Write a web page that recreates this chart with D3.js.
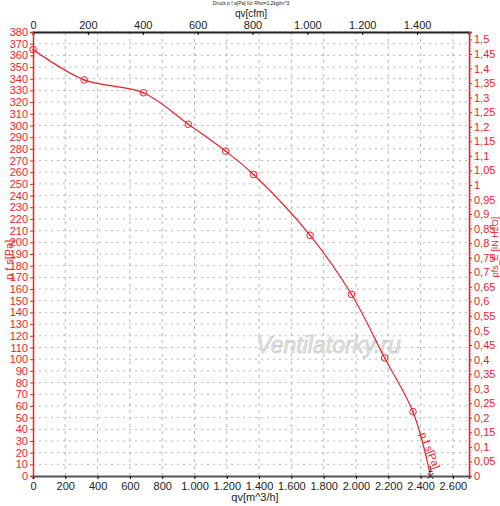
<!DOCTYPE html>
<html>
<head>
<meta charset="utf-8">
<script src="https://cdn.jsdelivr.net/npm/d3@7"></script>
<style>
  body { margin: 0; background: #fff; }
  text { font-family: "Liberation Sans", Arial, sans-serif; }
</style>
</head>
<body>
<div id="chart"></div>
<script>
// curve data
var qvPoints = [0, 317, 684, 962, 1193, 1366, 1716, 1972, 2178, 2353, 2462];
var pPoints  = [365, 339, 328, 301, 278, 258, 206, 155.5, 101, 55, 0];
// tick values
var qvTicks  = [0, 200, 400, 600, 800, 1000, 1200, 1400, 1600, 1800, 2000, 2200, 2400, 2600];
var cfmTicks = [0, 200, 400, 600, 800, 1000, 1200, 1400];
var paTicks  = d3.range(0, 381, 10);
var inTicks  = d3.range(0, 1.501, 0.05);

var red = "#e3262b";
var margin = {top: 32, right: 31, bottom: 30, left: 33},
    width = 500 - margin.left - margin.right,
    height = 506 - margin.top - margin.bottom;

var svg = d3.select("#chart")
  .append("svg")
    .attr("width", 500)
    .attr("height", 506)
  .append("g")
    .attr("transform", "translate(" + margin.left + "," + margin.top + ")");

var x = d3.scaleLinear().domain([0, 2700]).range([0, width]);
var xCfm = d3.scaleLinear().domain([0, 2700 / 1.699]).range([0, width]);
var y = d3.scaleLinear().domain([0, 380]).range([height, 0]);
var yIn = d3.scaleLinear().domain([0, 380 / 249.09]).range([height, 0]);

var dotFmt = function (v) { return d3.format(",")(v).replace(/,/g, "."); };
var commaFmt = function (v) { return (+v.toFixed(2)).toString().replace(".", ","); };

// grid
svg.append("g").selectAll("line")
  .data(paTicks.slice(1))
  .join("line")
    .attr("x1", 0).attr("x2", width)
    .attr("y1", d => y(d)).attr("y2", d => y(d))
    .attr("stroke", "#b8b8b8").attr("stroke-dasharray", "2,4");
svg.append("g").selectAll("line")
  .data(qvTicks.slice(1))
  .join("line")
    .attr("x1", d => x(d)).attr("x2", d => x(d))
    .attr("y1", 0).attr("y2", height)
    .attr("stroke", "#b8b8b8").attr("stroke-dasharray", "3,4");

// watermark
svg.append("text")
  .attr("x", x(1830)).attr("y", y(105))
  .attr("text-anchor", "middle")
  .attr("font-size", 23)
  .attr("font-style", "italic")
  .attr("fill", "#e4e4e4")
  .attr("stroke", "#c4c4c4")
  .attr("stroke-width", 0.6)
  .text("Ventilatorky.ru");

// axes
var bottomAx = svg.append("g")
  .attr("transform", "translate(0," + height + ")")
  .call(d3.axisBottom(x).tickValues(qvTicks).tickFormat(dotFmt).tickSize(3));
bottomAx.select(".domain").attr("stroke", "#555").attr("stroke-width", 2);
bottomAx.selectAll("text").attr("font-size", 11).attr("fill", "#222");

var topAx = svg.append("g")
  .call(d3.axisTop(xCfm).tickValues(cfmTicks).tickFormat(dotFmt).tickSize(-3));
topAx.select(".domain").attr("stroke", "#222").attr("stroke-width", 2);
topAx.selectAll("text").attr("font-size", 11).attr("fill", "#222").attr("y", -3);

var leftAx = svg.append("g")
  .call(d3.axisLeft(y).tickValues(paTicks).tickSize(3).tickPadding(2));
leftAx.select(".domain").attr("stroke", red).attr("stroke-width", 1.5);
leftAx.selectAll("line").attr("stroke", red);
leftAx.selectAll("text").attr("font-size", 11).attr("fill", red);

var rightAx = svg.append("g")
  .attr("transform", "translate(" + width + ",0)")
  .call(d3.axisRight(yIn).tickValues(inTicks).tickFormat(commaFmt).tickSize(3).tickPadding(2));
rightAx.select(".domain").attr("stroke", red).attr("stroke-width", 1.5);
rightAx.selectAll("line").attr("stroke", red);
rightAx.selectAll("text").attr("font-size", 11).attr("fill", red);
// minor ticks on the right
rightAx.append("g").selectAll("line")
  .data(d3.range(0.01, 1.52, 0.01))
  .join("line")
    .attr("x1", 0).attr("x2", 1.8)
    .attr("y1", d => yIn(d)).attr("y2", d => yIn(d))
    .attr("stroke", red).attr("stroke-width", 0.7);

// axis titles
svg.append("text")
  .attr("x", width / 2).attr("y", -15)
  .attr("text-anchor", "middle").attr("font-size", 10).attr("fill", "#222")
  .text("qv[cfm]");
svg.append("text")
  .attr("x", width / 2 + 4).attr("y", height + 25)
  .attr("text-anchor", "middle").attr("font-size", 11).attr("fill", "#222")
  .text("qv[m^3/h]");
svg.append("text")
  .attr("transform", "translate(" + (-20) + "," + y(185) + ") rotate(-90)")
  .attr("text-anchor", "middle").attr("font-size", 11).attr("fill", red)
  .text("p f s[Pa]");
svg.append("text")
  .attr("transform", "translate(" + (width + 29) + "," + y(196) + ") rotate(-90)")
  .attr("text-anchor", "middle").attr("font-size", 9).attr("fill", red)
  .text("pfs_E [IN H2O]");
svg.append("text")
  .attr("x", width / 2).attr("y", -27.5)
  .attr("text-anchor", "middle").attr("font-size", 5).attr("fill", "#222")
  .text("Druck p f a[Pa] für Rho=1,2kg/m^3");

// the curve
var pts = qvPoints.map((q, i) => ({q: q, p: pPoints[i]}));
svg.append("path")
  .datum(pts)
  .attr("fill", "none")
  .attr("stroke", red)
  .attr("stroke-width", 1.2)
  .attr("d", d3.line()
    .x(d => x(d.q))
    .y(d => y(d.p))
    .curve(d3.curveCatmullRom.alpha(0.5)));

// markers
var mk = svg.append("g").selectAll("g")
  .data(pts.slice(0, -1))
  .join("g")
    .attr("transform", d => "translate(" + x(d.q) + "," + y(d.p) + ")");
mk.append("circle").attr("r", 3.3).attr("fill", "none").attr("stroke", red).attr("stroke-width", 1);
mk.append("circle").attr("r", 0.9).attr("fill", red);

// end point
var last = pts[pts.length - 1];
var endG = svg.append("g")
  .attr("transform", "translate(" + x(last.q) + "," + y(last.p) + ")");
endG.append("path").attr("d", "M-3,-3L3,3M-3,3L3,-3").attr("stroke", "#222").attr("stroke-width", 1);
endG.append("text").attr("x", 0).attr("y", -4).attr("text-anchor", "middle")
  .attr("font-size", 9).attr("fill", "#222").text("1");

// curve label
svg.append("text")
  .attr("transform", "translate(" + x(2392) + "," + y(36) + ") rotate(68)")
  .attr("font-size", 10.5).attr("fill", red)
  .text("p f s[Pa]");
</script>
</body>
</html>
